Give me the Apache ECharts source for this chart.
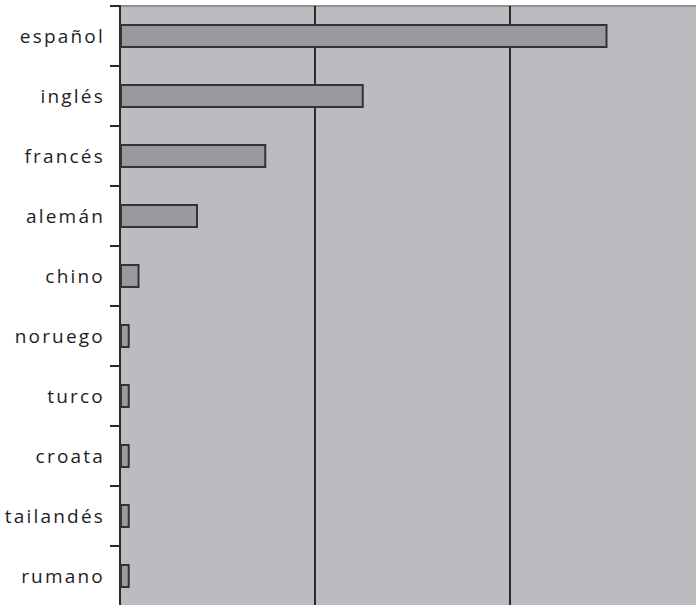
<!DOCTYPE html>
<html>
<head>
<meta charset="utf-8">
<script src="https://cdn.jsdelivr.net/npm/echarts@6/dist/echarts.min.js"></script>
<style>
  html, body { margin: 0; padding: 0; background: #fff; overflow: hidden; }
  #chart { width: 706px; height: 607px; }
  /* the original labels are set with wide tracking */
  #chart text { letter-spacing: 2.2px; }
</style>
</head>
<body>
<div id="chart"></div>
<script>
const categories = ['español', 'inglés', 'francés', 'alemán', 'chino', 'noruego', 'turco', 'croata', 'tailandés', 'rumano'];
const values = [250, 125, 75, 40, 10, 5, 5, 5, 5, 5];
const axisMax = 300;
const axisStep = 100;

// chart is slightly wider/taller than the window so the right and bottom
// edges of the plot fall outside, as in the original
const chart = echarts.init(document.getElementById('chart'), null, { renderer: 'svg' });

chart.setOption({
    animation: false,
    grid: {
        left: 120,
        right: 1,
        top: 6,
        bottom: 1,
        show: true,
        backgroundColor: '#bbbcc0',
        borderColor: '#8f8f93',
        borderWidth: 2
    },
    xAxis: {
        type: 'value',
        min: 0,
        max: axisMax,
        interval: axisStep,
        axisLabel: { show: false },
        axisLine: { show: false },
        axisTick: { show: false },
        splitLine: { show: true, lineStyle: { color: '#2a2a2a', width: 2 } }
    },
    yAxis: {
        type: 'category',
        inverse: true,
        data: categories,
        axisLine: { show: true, lineStyle: { color: '#2a2a2a', width: 2 } },
        axisTick: { show: true, length: 10, lineStyle: { color: '#2a2a2a', width: 2 } },
        axisLabel: {
            margin: 15,
            color: '#1e1e1e',
            fontSize: 19,
            fontFamily: 'Open Sans'
        }
    },
    series: [{
        type: 'bar',
        data: values,
        barWidth: 24,
        itemStyle: {
            color: '#999a9e',
            borderColor: '#333',
            borderWidth: 2
        }
    }]
});
</script>
</body>
</html>
